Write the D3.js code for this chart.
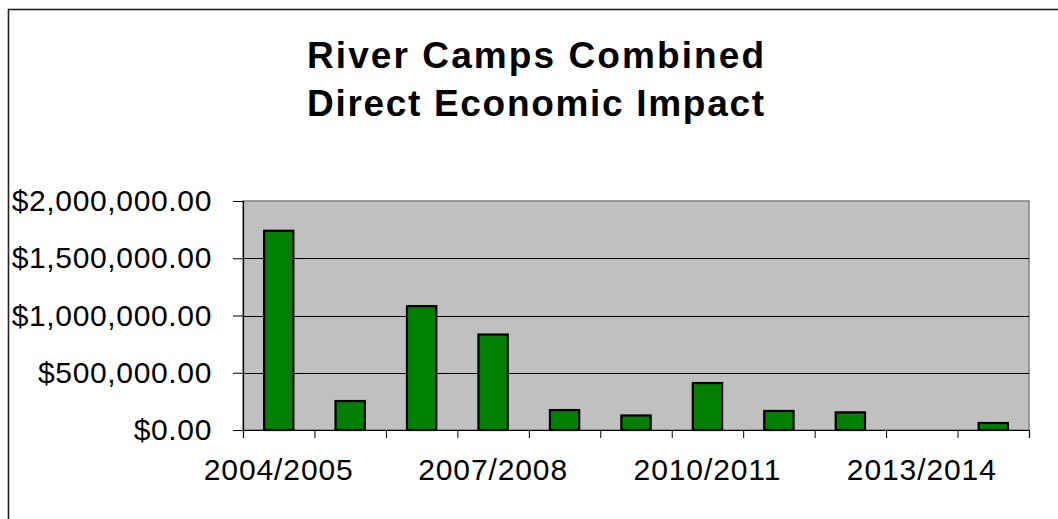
<!DOCTYPE html>
<html><head><meta charset="utf-8">
<script src="https://cdn.jsdelivr.net/npm/d3@7"></script>
<style>
html,body{margin:0;padding:0;background:#fff;}
svg{display:block;font-family:"Liberation Sans",Arial,sans-serif;}
</style></head>
<body>
<svg id="c" width="1058" height="519"></svg>
<script>
const categories = ["2004/2005","2005/2006","2006/2007","2007/2008","2008/2009","2009/2010","2010/2011","2011/2012","2012/2013","2013/2014","2014/2015"];
const values = [1740000, 253000, 1082000, 834000, 174000, 127000, 410000, 166000, 154000, 0, 61000];
const yTicks = [0, 500000, 1000000, 1500000, 2000000];
const labelEvery = 3;
const titleLines = ["River Camps Combined", "Direct Economic Impact"];

const svg = d3.select("#c");
const L = 243, R = 1029, T = 201, B = 430;

// outer frame
svg.append("rect").attr("x", 8.5).attr("y", 9.5).attr("width", 1100).attr("height", 600)
  .attr("fill", "none").attr("stroke", "#222").attr("stroke-width", 1.6);

// title
svg.append("g").selectAll("text").data(titleLines).join("text")
  .attr("x", 307).attr("y", (d, i) => 68 + i * 48)
  .attr("textLength", 457).attr("lengthAdjust", "spacing")
  .attr("font-weight", "bold").attr("font-size", 37)
  .attr("fill", "#000").text(d => d);

const x = d3.scaleBand().domain(categories).range([L, R]).padding(0);
const xi = d3.scaleLinear().domain([0, categories.length]).range([L, R]);
const y = d3.scaleLinear().domain([0, 2000000]).range([B, T]);

// plot area
svg.append("rect").attr("x", L).attr("y", T).attr("width", R - L).attr("height", B - T)
  .attr("fill", "#c0c0c0").attr("stroke", "#808080").attr("stroke-width", 1.5);

// gridlines
svg.append("g").selectAll("line").data(yTicks.filter(v => v > 0 && v < 2000000)).join("line")
  .attr("x1", L).attr("x2", R).attr("y1", d => Math.round(y(d)) + 0.5).attr("y2", d => Math.round(y(d)) + 0.5)
  .attr("stroke", "#000").attr("stroke-width", 1);

// y axis
const yAxis = svg.append("g").attr("transform", `translate(${L},0)`)
  .call(d3.axisLeft(y).tickValues(yTicks).tickSize(10).tickPadding(21)
    .tickFormat(d => "$" + d3.format(",.2f")(d)));
yAxis.select(".domain").attr("stroke", "#000").attr("stroke-width", 1.2);
yAxis.selectAll(".tick line").attr("stroke", "#000");
yAxis.selectAll(".tick text").attr("font-size", 30).attr("fill", "#000")
  .attr("letter-spacing", 0.65)
  .attr("font-family", "'Liberation Sans',Arial,sans-serif");

// bars
const bw = x.bandwidth() * 0.41;
svg.append("g").selectAll("rect").data(values.map((v, i) => ({c: categories[i], v})).filter(d => d.v > 0)).join("rect")
  .attr("x", d => x(d.c) + (x.bandwidth() - bw) / 2)
  .attr("y", d => y(d.v))
  .attr("width", bw)
  .attr("height", d => y(0) - y(d.v))
  .attr("fill", "#008000").attr("stroke", "#000").attr("stroke-width", 2.2);

// x axis
const xAxis = svg.append("g").attr("transform", `translate(0,${B})`)
  .call(d3.axisBottom(xi).tickValues(d3.range(categories.length + 1)).tickSize(8).tickFormat(""));
xAxis.select(".domain").attr("stroke", "#000").attr("stroke-width", 1.2);
xAxis.selectAll(".tick line").attr("stroke", "#000");

svg.append("g").selectAll("text").data(categories.filter((c, i) => i % labelEvery === 0)).join("text")
  .attr("x", d => x(d) + x.bandwidth() / 2).attr("y", 480)
  .attr("text-anchor", "middle").attr("font-size", 30).attr("letter-spacing", 0.9).attr("fill", "#000")
  .text(d => d);
</script>
</body></html>
